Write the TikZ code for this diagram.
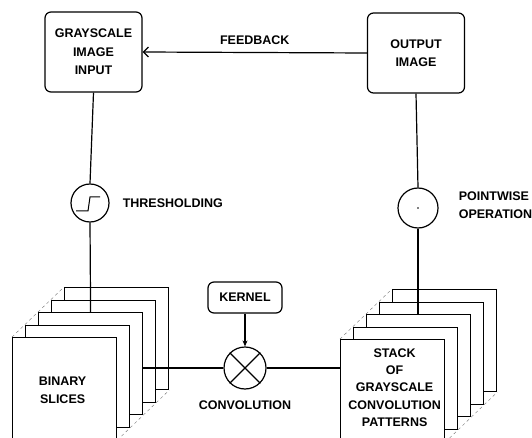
\documentclass[tikz,border=0pt]{standalone}
\usepackage{fontspec}
\setmainfont{Liberation Sans}
\usetikzlibrary{positioning,arrows.meta,calc,backgrounds}
\tikzset{
  lbl/.style={font=\fontsize{12.5}{18}\selectfont\bfseries,align=center,inner sep=0pt},
  rbox/.style={draw,rounded corners=6pt,line width=1.2pt,fill=white,
    font=\fontsize{12.5}{18.5}\selectfont\bfseries,align=center},
  sheet/.style={draw,fill=white,line width=1.2pt,minimum width=104pt,
    minimum height=102pt,inner sep=0pt,anchor=north west},
  opcirc/.style={circle,draw,line width=1.2pt,inner sep=0pt},
  wire/.style={line width=1.2pt},
  persp/.style={dashed,line width=0.4pt,black!55}, % depth lines of a stack
}
\begin{document}
\begin{tikzpicture}[x=1pt,y=-1pt]
  \useasboundingbox (0,0) rectangle (532,438);
  % boxes and operators
  \node[rbox,minimum width=97pt,minimum height=80pt] (gin) at (93.5,52) {GRAYSCALE\\IMAGE\\INPUT};
  \node[rbox,minimum width=97pt,minimum height=80pt] (gout) at (416,53) {OUTPUT\\IMAGE};
  \node[opcirc,minimum size=38pt] (thr) at (90,203) {};
  \node[lbl,right=13pt of thr] (thrlbl) {THRESHOLDING};
  \node[opcirc,minimum size=40pt] (pw) at (418,208) {};
  \fill (pw.center) circle (0.8pt);
  \node[lbl,anchor=west,align=left] (pwlbl) at ($(pw.east)+(20,-3)$) {POINTWISE\\OPERATION};
  \node[rbox,minimum width=74pt,minimum height=31pt] (ker) at (245,297.5) {KERNEL};
  \node[opcirc,minimum size=42pt] (conv) at (245,368) {};
  \node[lbl,below=11pt of conv] (convlbl) {CONVOLUTION};
  % step inside the threshold circle
  \draw[line width=1pt] ($(thr)+(-14,8)$) -- ($(thr)+(-2,8)$) -- ($(thr)+(0,-6)$) -- ($(thr)+(10,-6)$);
  \draw[wire] (conv.north west) -- (conv.south east);
  \draw[wire] (conv.north east) -- (conv.south west);
  % the two stacks of sheets, back to front
  \foreach \i in {4,...,0}{
    \node[sheet] (l\i) at ({12+13*\i},{337-12.5*\i}) {};
    \node[sheet] (r\i) at ({340+13*\i},{339-12.5*\i}) {};
  }
  \node[lbl] (binlbl) at ($(l0.center)+(-2,2)$) {BINARY\\SLICES};
  \node[lbl,font=\fontsize{12.5}{17.2}\selectfont\bfseries] (stklbl) at ($(r0.center)+(2,-3)$)
    {STACK\\OF\\GRAYSCALE\\CONVOLUTION\\PATTERNS};
  \begin{scope}[on background layer]
    \foreach \s in {l,r}{
      \draw[persp] (\s0.north west) -- (\s4.north west);
      \draw[persp] (\s0.north east) -- (\s4.north east);
      \draw[persp] (\s0.south east) -- (\s4.south east);
    }
  \end{scope}
  % connectors
  \draw[wire,-{Straight Barb[length=5pt,width=10pt]}] (gout.west) -- node[lbl,above=7pt] (fblbl) {FEEDBACK} (gin.east);
  \draw[wire] (gin.south) -- (thr.north);
  \draw[wire] (thr.south) -- (l2.north);
  \draw[wire] (gout.south) -- (pw.north);
  \draw[wire] (pw.south) -- (pw.south |- r2.north);
  \draw[wire,-{Stealth[length=6pt,width=5pt]}] (ker.south) -- (conv.north);
  \draw[wire] (conv.west) -- (conv.west -| l2.east);
  \draw[wire] (conv.east) -- (conv.east -| r0.west);
\end{tikzpicture}
\end{document}
